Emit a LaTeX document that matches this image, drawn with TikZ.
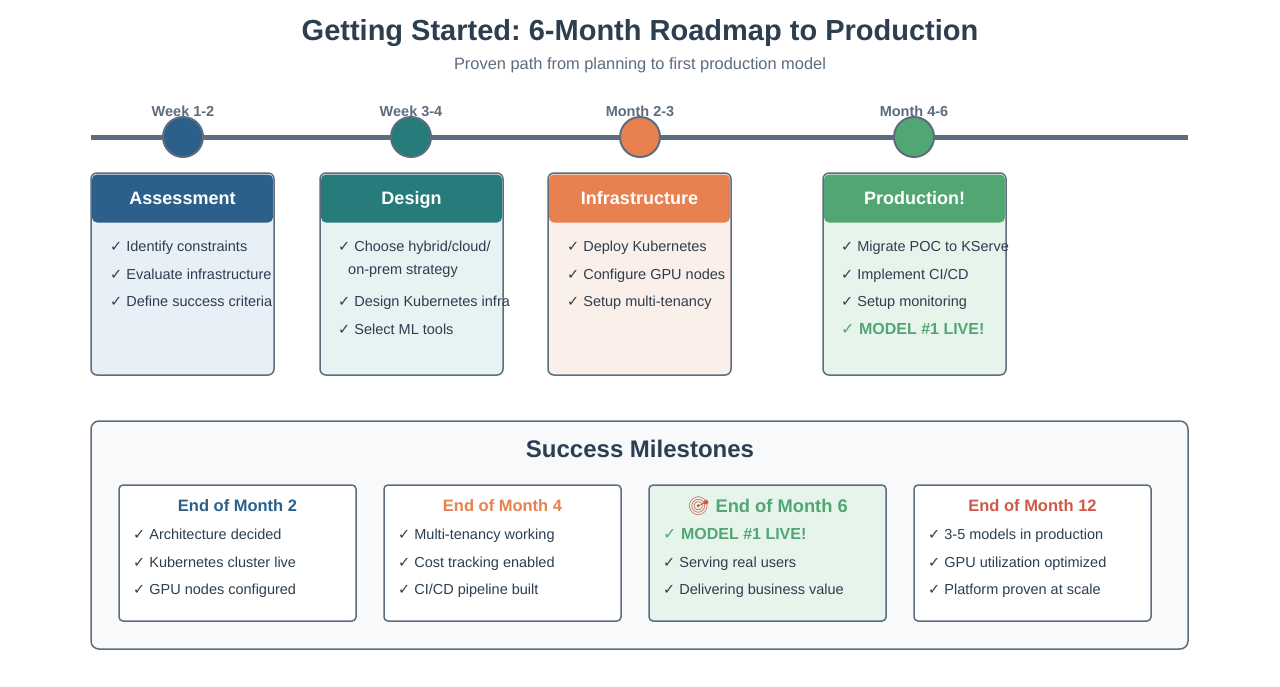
\documentclass[tikz,border=0pt]{standalone}
\usepackage{fontspec}
\setmainfont{Liberation Sans}
\newfontfamily\symfont{DejaVu Sans}
\newfontfamily\emojifont{Noto Emoji}
\frenchspacing
\definecolor{ink}{HTML}{2C3E50}
\definecolor{slate}{HTML}{5D6D7E}
\definecolor{blueA}{HTML}{2C5F8A}
\definecolor{tealA}{HTML}{267C7A}
\definecolor{orangeA}{HTML}{E8804F}
\definecolor{greenA}{HTML}{52A673}
\definecolor{redA}{HTML}{CB5A4C}
\definecolor{blueL}{HTML}{E8F0F7}
\definecolor{tealL}{HTML}{E6F3F2}
\definecolor{orangeL}{HTML}{FBEFE9}
\definecolor{greenL}{HTML}{E7F4EC}
\definecolor{panel}{HTML}{F7F9FB}
\newcommand{\chk}{{\symfont ✓}}
\newcommand{\fs}[1]{\fontsize{#1}{#1}\selectfont}

\begin{document}
\begin{tikzpicture}[x=1pt, y=-1pt,
    heading/.style ={font=\fs{29}\bfseries, text=ink},
    subheading/.style ={font=\fs{16.4}, text=slate},
    phase/.style ={font=\fs{14.5}\bfseries, text=slate},
    marker/.style ={circle, draw=slate, line width=2pt, minimum size=40pt, inner sep=0pt},
    cardbody/.style ={rounded corners=6pt, draw=slate, line width=1.5pt, minimum width=183pt, minimum height=202pt, inner sep=0pt},
    cardhead/.style ={rounded corners=5pt, minimum width=181pt, minimum height=48pt, inner sep=0pt, text height=12.9pt, text depth=0pt, font=\fs{18}\bfseries, text=white},
    item/.style ={anchor=base west, inner sep=0pt, font=\fs{14.5}, text=ink},
    goal/.style ={anchor=base west, inner sep=0pt, font=\fs{16}\bfseries, text=greenA},
    board/.style ={rounded corners=8pt, draw=slate, line width=1.5pt, fill=panel, minimum width=1097pt, minimum height=228pt},
    stone/.style ={rounded corners=4pt, draw=slate, line width=1.5pt, fill=white, minimum width=237pt, minimum height=136pt},
    stonetitle/.style ={font=\fs{16.5}\bfseries}]
   \path[fill=white] (0,0) rectangle (1280,686);
   \useasboundingbox (0,0) rectangle (1280,686);

   % title
   \node[heading] (title) at (640,33) {Getting Started: 6-Month Roadmap to Production};
   \node[subheading] (sub) at (640,65) {Proven path from planning to first production model};

   % timeline
   \node[phase] (P1) at (183,111) {Week 1-2};
   \node[phase] (P2) at (411,111) {Week 3-4};
   \node[phase] (P3) at (640,111) {Month 2-3};
   \node[phase] (P4) at (914,111) {Month 4-6};
   \coordinate (T0) at (91,137);
   \coordinate (T1) at (1188,137);
   \draw[slate, line width=5pt] (T0) -- (T1);
   \node[marker, fill=blueA] (M1) at (183,137) {};
   \node[marker, fill=tealA] (M2) at (411,137) {};
   \node[marker, fill=orangeA] (M3) at (640,137) {};
   \node[marker, fill=greenA] (M4) at (914,137) {};

   % phase cards
   \node[cardbody, fill=blueL] (C1) at (182.5,274) {};
   \node[cardhead, fill=blueA] (H1) at (182.5,198.5) {Assessment};
   \node[item] (C1a) at (110,251) {\chk\ Identify constraints};
   \node[item] (C1b) at (110,279) {\chk\ Evaluate infrastructure};
   \node[item] (C1c) at (110,306) {\chk\ Define success criteria};

   \node[cardbody, fill=tealL] (C2) at (411.5,274) {};
   \node[cardhead, fill=tealA] (H2) at (411.5,198.5) {Design};
   \node[item, align=left, font=\fontsize{14.5}{23}\selectfont] (C2a) at (338,274) {\chk\ Choose hybrid/cloud/\\\hspace*{10pt}on-prem strategy};
   \node[item] (C2b) at (338,306) {\chk\ Design Kubernetes infra};
   \node[item] (C2c) at (338,334) {\chk\ Select ML tools};

   \node[cardbody, fill=orangeL] (C3) at (639.5,274) {};
   \node[cardhead, fill=orangeA] (H3) at (639.5,198.5) {Infrastructure};
   \node[item] (C3a) at (567,251) {\chk\ Deploy Kubernetes};
   \node[item] (C3b) at (567,279) {\chk\ Configure GPU nodes};
   \node[item] (C3c) at (567,306) {\chk\ Setup multi-tenancy};

   \node[cardbody, fill=greenL] (C4) at (914.5,274) {};
   \node[cardhead, fill=greenA] (H4) at (914.5,198.5) {Production!};
   \node[item] (C4a) at (841,251) {\chk\ Migrate POC to KServe};
   \node[item] (C4b) at (841,279) {\chk\ Implement CI/CD};
   \node[item] (C4c) at (841,306) {\chk\ Setup monitoring};
   \node[goal] (C4d) at (841,334.5) {\chk\ MODEL \#1 LIVE!};

   % milestones
   \node[board] (B) at (639.5,535) {};
   \node[font=\fs{24}\bfseries, text=ink] (BT) at (640,449) {Success Milestones};

   \node[stone] (S1) at (237.5,553) {};
   \node[stonetitle, text=blueA] (S1t) at (237.5,506) {End of Month 2};
   \node[item] (S1a) at (133,539) {\chk\ Architecture decided};
   \node[item] (S1b) at (133,567) {\chk\ Kubernetes cluster live};
   \node[item] (S1c) at (133,594) {\chk\ GPU nodes configured};

   \node[stone] (S2) at (502.5,553) {};
   \node[stonetitle, text=orangeA] (S2t) at (502.5,506) {End of Month 4};
   \node[item] (S2a) at (398,539) {\chk\ Multi-tenancy working};
   \node[item] (S2b) at (398,567) {\chk\ Cost tracking enabled};
   \node[item] (S2c) at (398,594) {\chk\ CI/CD pipeline built};

   \node[stone, fill=greenL] (S3) at (767.5,553) {};
   \node[stonetitle, font=\fs{18.3}\bfseries, text=greenA] (S3t) at (767.5,506) {{\color{redA}\emojifont 🎯} End of Month 6};
   \node[goal] (S3a) at (663,539) {\chk\ MODEL \#1 LIVE!};
   \node[item] (S3b) at (663,567) {\chk\ Serving real users};
   \node[item] (S3c) at (663,594) {\chk\ Delivering business value};

   \node[stone] (S4) at (1032.5,553) {};
   \node[stonetitle, text=redA] (S4t) at (1032.5,506) {End of Month 12};
   \node[item] (S4a) at (928,539) {\chk\ 3-5 models in production};
   \node[item] (S4b) at (928,567) {\chk\ GPU utilization optimized};
   \node[item] (S4c) at (928,594) {\chk\ Platform proven at scale};
 \end{tikzpicture}
\end{document}
